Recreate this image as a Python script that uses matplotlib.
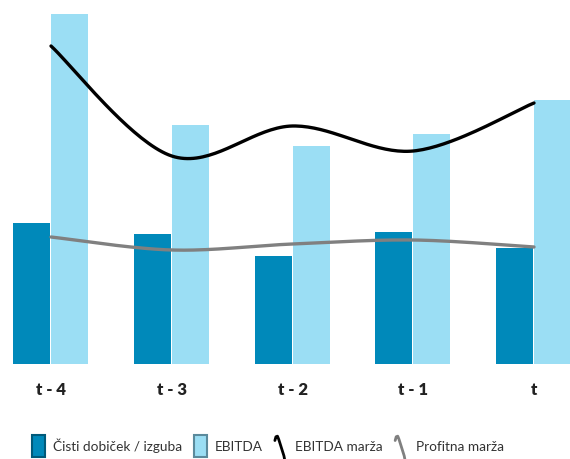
import numpy as np
import matplotlib
matplotlib.use("Agg")
import matplotlib.pyplot as plt
from matplotlib.lines import Line2D
from matplotlib.patches import Patch
from matplotlib.legend_handler import HandlerBase

plt.rcParams['font.family'] = ['Lato', 'DejaVu Sans']

periods = ['t - 4', 't - 3', 't - 2', 't - 1', 't']
cisti_dobicek = [141, 130, 108, 132, 116]
ebitda = [350, 239, 218, 230, 264]
ebitda_marza = [31.8, 20.8, 23.8, 21.3, 26.1]
profitna_marza = [12.7, 11.4, 12.0, 12.4, 11.7]

DARK = '#0089ba'
LIGHT = '#9bdef4'


def smooth(xs, ys, n=40):
    # Excel-style smoothed line (Bezier through the points)
    xs = np.asarray(xs, float)
    ys = np.asarray(ys, float)
    px = np.concatenate([[xs[0]], xs, [xs[-1]]])
    py = np.concatenate([[ys[0]], ys, [ys[-1]]])
    ox, oy = [], []
    for i in range(1, len(px) - 2):
        t = np.linspace(0, 1, n)
        p0, p1, p2, p3 = (np.array([px[j], py[j]]) for j in (i - 1, i, i + 1, i + 2))
        c1 = p1 + (p2 - p0) / 6
        c2 = p2 - (p3 - p1) / 6
        b = ((1 - t) ** 3)[:, None] * p1 + (3 * (1 - t) ** 2 * t)[:, None] * c1 \
            + (3 * (1 - t) * t ** 2)[:, None] * c2 + (t ** 3)[:, None] * p2
        ox.extend(b[:, 0])
        oy.extend(b[:, 1])
    return np.array(ox), np.array(oy)


class SquiggleHandler(HandlerBase):
    def create_artists(self, legend, orig_handle, xdescent, ydescent,
                       width, height, fontsize, trans):
        sx = np.array([0.0, 0.08, 0.2, 0.3, 0.7, 0.78, 0.8])
        sy = np.array([0.75, 0.92, 0.95, 0.8, 0.05, -0.2, -0.35])
        x = -xdescent + sx * width
        y = -ydescent + sy * height
        ln = Line2D(x, y, color=orig_handle.get_color(), lw=2.0,
                    solid_capstyle='round')
        ln.set_transform(trans)
        return [ln]


fig = plt.figure(figsize=(5.7, 4.6), dpi=100)
ax = fig.add_axes([0, 95 / 460, 1, 360 / 460])
unit = 120.75
ax.set_xlim(-51 / unit, (570 - 51) / unit)
ax.set_ylim(0, 360)

x = np.arange(len(periods))
w = 37 / unit
gap = 1 / unit
ax.bar(x - gap - w, cisti_dobicek, width=w, align='edge', color=DARK)
ax.bar(x, ebitda, width=w, align='edge', color=LIGHT)

ax2 = ax.twinx()
ax2.set_ylim(0, 36.0)
lx, ly = smooth(x, ebitda_marza)
ax2.plot(lx, ly, color='black', lw=2.4, solid_capstyle='round')
gx, gy = smooth(x, profitna_marza)
ax2.plot(gx, gy, color='#808080', lw=2.4, solid_capstyle='round')

for a in (ax, ax2):
    for s in a.spines.values():
        s.set_visible(False)
    a.set_yticks([])
ax.set_xticks(x)
ax.set_xticklabels(periods, fontsize=12, fontweight='heavy', color='#222222')
ax.tick_params(axis='x', length=0, pad=12)

handles = [
    Patch(facecolor=DARK, edgecolor='#005a7a', linewidth=1.5),
    Patch(facecolor=LIGHT, edgecolor='#5b8a9c', linewidth=1.5),
    Line2D([], [], color='black'),
    Line2D([], [], color='#808080'),
]
labels = ['Čisti dobiček / izguba', 'EBITDA', 'EBITDA marža', 'Profitna marža']
leg = fig.legend(handles, labels, loc='center', ncol=4, frameon=False,
                 fontsize=9.8, handlelength=0.95, handleheight=2.1,
                 handletextpad=0.55, columnspacing=0.9,
                 handler_map={Line2D: SquiggleHandler()})
leg.set_bbox_to_anchor((268 / 570, 1 - 447 / 460), transform=fig.transFigure)
for t in leg.get_texts():
    t.set_color('#333333')

fig.savefig('out.png', dpi=100)
